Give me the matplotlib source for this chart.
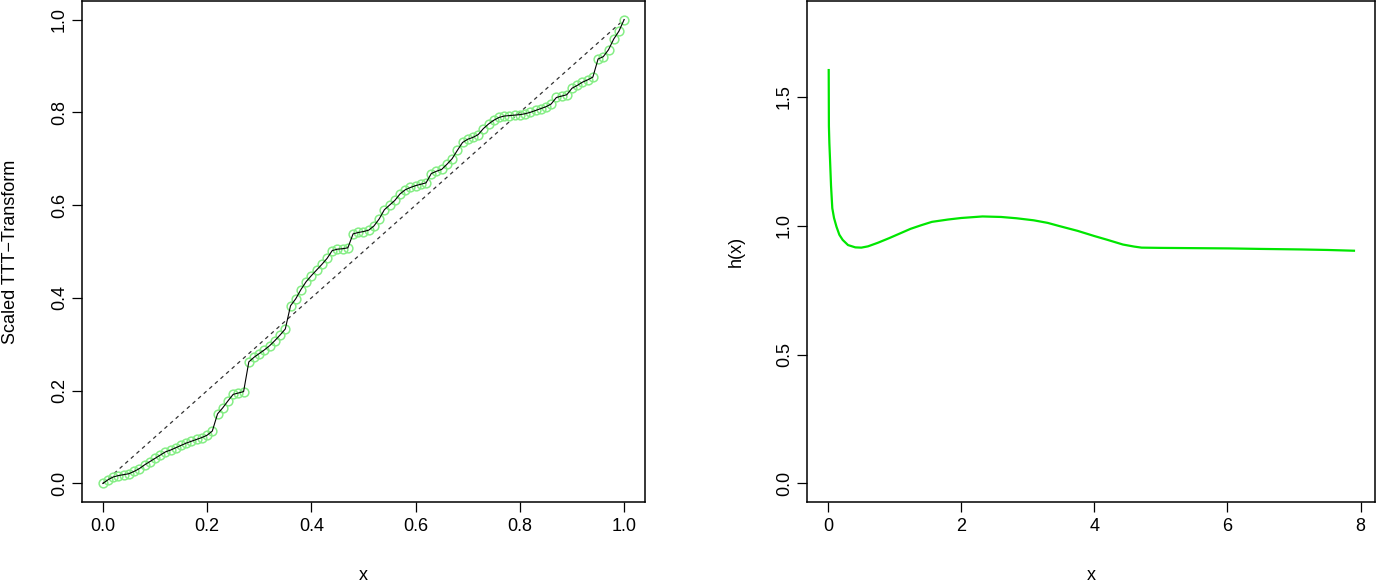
#!/usr/bin/env python

import numpy as np
import matplotlib
matplotlib.use('Agg')
import matplotlib.pyplot as plt

# TTT plot: scaled TTT-transform at i/n, n = 100
ttt_n = 100
ttt_y = [0.000, 0.008, 0.014, 0.017, 0.019, 0.021, 0.026, 0.032, 0.040, 0.047,
         0.054, 0.061, 0.068, 0.072, 0.077, 0.082, 0.087, 0.091, 0.095, 0.099,
         0.104, 0.113, 0.150, 0.163, 0.178, 0.192, 0.195, 0.198, 0.262, 0.272,
         0.280, 0.288, 0.297, 0.308, 0.320, 0.333, 0.383, 0.398, 0.418, 0.435,
         0.448, 0.460, 0.472, 0.485, 0.502, 0.505, 0.506, 0.508, 0.538, 0.541,
         0.543, 0.546, 0.555, 0.570, 0.590, 0.600, 0.610, 0.624, 0.633, 0.638,
         0.642, 0.645, 0.648, 0.668, 0.673, 0.677, 0.688, 0.700, 0.718, 0.735,
         0.742, 0.746, 0.752, 0.765, 0.775, 0.783, 0.789, 0.792, 0.793, 0.794,
         0.795, 0.797, 0.800, 0.804, 0.808, 0.812, 0.818, 0.832, 0.835, 0.838,
         0.852, 0.858, 0.865, 0.870, 0.876, 0.915, 0.920, 0.935, 0.958, 0.975,
         1.000]

# hazard rate curve h(x)
h_x = [0.01, 0.013, 0.02, 0.03, 0.045, 0.064, 0.09, 0.127, 0.17, 0.22, 0.3,
       0.41, 0.5, 0.6, 0.75, 0.92, 1.08, 1.24, 1.4, 1.56, 1.8, 2.0, 2.32,
       2.6, 2.83, 3.09, 3.3, 3.47, 3.75, 4.0, 4.2, 4.43, 4.6, 4.71, 5.0,
       5.5, 6.02, 6.5, 7.1, 7.5, 7.9]
h_y = [1.604, 1.387, 1.32, 1.256, 1.155, 1.068, 1.03, 0.996, 0.965, 0.945,
       0.925, 0.916, 0.915, 0.92, 0.934, 0.952, 0.970, 0.988, 1.002, 1.015,
       1.024, 1.03, 1.036, 1.034, 1.029, 1.021, 1.011, 0.999, 0.980, 0.96,
       0.945, 0.927, 0.919, 0.915, 0.914, 0.913, 0.912, 0.910, 0.908, 0.906,
       0.903]

left_ticks = [0.0, 0.2, 0.4, 0.6, 0.8, 1.0]
right_xticks = [0, 2, 4, 6, 8]
right_yticks = [0.0, 0.5, 1.0, 1.5]

plt.rcParams['font.family'] = ['Liberation Sans', 'DejaVu Sans']
FS = 13

def r_style(ax, xlim, ylim, xticks, yticks, xfmt, yfmt):
  # mimic base R: 4% padding, outward ticks, rotated y labels
  dx = (xlim[1] - xlim[0]) * 0.04
  dy = (ylim[1] - ylim[0]) * 0.04
  ax.set_xlim(xlim[0] - dx, xlim[1] + dx)
  ax.set_ylim(ylim[0] - dy, ylim[1] + dy)
  ax.set_xticks(xticks)
  ax.set_xticklabels([xfmt % t for t in xticks], fontsize=FS)
  ax.set_yticks(yticks)
  ax.set_yticklabels([yfmt % t for t in yticks], fontsize=FS, rotation=90,
                     va='center')
  ax.tick_params(direction='out', length=7.2, width=0.9, color='black')
  ax.tick_params(axis='x', pad=4)
  ax.tick_params(axis='y', pad=3)
  for s in ax.spines.values():
    s.set_linewidth(1.1)
    s.set_color('black')


fig = plt.figure(figsize=(13.82, 5.82), dpi=100)
ax1 = fig.add_axes([82/1382., 80/582., 563/1382., 501/582.])
ax2 = fig.add_axes([807/1382., 80/582., 568/1382., 501/582.])

# left: TTT plot
tx = np.arange(ttt_n + 1) / float(ttt_n)
ax1.plot([0, 1], [0, 1], color='#333333', lw=0.9, dashes=(3, 3))
ax1.plot(tx, ttt_y, 'o', mfc='none', mec='#86ee86', ms=6.3, mew=1.1)
ax1.plot(tx, ttt_y, color='black', lw=0.8)
r_style(ax1, (0, 1), (0, 1), left_ticks, left_ticks, '%.1f', '%.1f')
ax1.set_xlabel('x', fontsize=FS)
ax1.set_ylabel('Scaled TTT\u2212Transform', fontsize=FS)

# right: hazard rate
ax2.plot(h_x, h_y, color='#00e600', lw=1.6)
r_style(ax2, (min(h_x), max(h_x)), (0, 1.8), right_xticks, right_yticks,
        '%d', '%.1f')
ax2.set_xlim(-0.316, 8.216)
ax2.set_xlabel('x', fontsize=FS)
ax2.set_ylabel('h(x)', fontsize=FS)

for ax in (ax1, ax2):
  w = ax.get_position().width * 1382
  ax.yaxis.set_label_coords(-71.0 / w, 0.5)
  ax.xaxis.set_label_coords(0.5, -74.0 / 501)
  ax.xaxis.label.set_va('center')
  ax.yaxis.label.set_va('center')

fig.savefig('out.png', dpi=100)
